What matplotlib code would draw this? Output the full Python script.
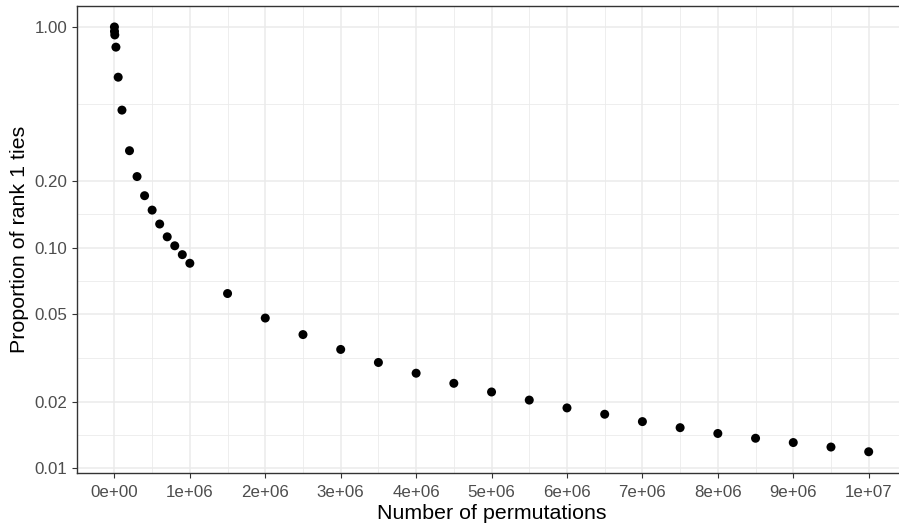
import numpy as np
import matplotlib
matplotlib.use("Agg")
import matplotlib.pyplot as plt
from matplotlib.ticker import FixedLocator, FixedFormatter

# Data
permutations = [100, 1000, 5000, 20000, 50000, 100000,
                200000, 300000, 400000, 500000, 600000, 700000, 800000, 900000, 1000000,
                1500000, 2000000, 2500000, 3000000, 3500000, 4000000, 4500000, 5000000,
                5500000, 6000000, 6500000, 7000000, 7500000, 8000000, 8500000, 9000000,
                9500000, 10000000]
prop_ties = [1.0, 0.955, 0.92, 0.81, 0.592, 0.420,
             0.275, 0.210, 0.172, 0.148, 0.128, 0.112, 0.102, 0.093, 0.085,
             0.062, 0.048, 0.0404, 0.0346, 0.0302, 0.0270, 0.0243, 0.0222,
             0.0204, 0.0188, 0.0176, 0.0163, 0.0153, 0.0144, 0.0137, 0.0131,
             0.0125, 0.0119]

x_breaks = [0, 1e6, 2e6, 3e6, 4e6, 5e6, 6e6, 7e6, 8e6, 9e6, 1e7]
x_labels = ["0e+00", "1e+06", "2e+06", "3e+06", "4e+06", "5e+06",
            "6e+06", "7e+06", "8e+06", "9e+06", "1e+07"]
y_breaks = [0.01, 0.02, 0.05, 0.10, 0.20, 1.00]
y_labels = ["0.01", "0.02", "0.05", "0.10", "0.20", "1.00"]

plt.rcParams['font.family'] = ['Liberation Sans', 'DejaVu Sans']

W, H = 899, 524
fig = plt.figure(figsize=(W / 100, H / 100), dpi=100)
left, right, top, bottom = 76.7, 906.4, 5.7, 473.0
ax = fig.add_axes([left / W, 1 - bottom / H, (right - left) / W, (bottom - top) / H])

ax.set_yscale('log')
xmin, xmax = 0, max(permutations)
xr = xmax - xmin
ax.set_xlim(xmin - 0.05 * xr, xmax + 0.05 * xr)
lmin, lmax = np.log10(min(prop_ties)), np.log10(max(prop_ties))
lr = lmax - lmin
ax.set_ylim(10 ** (lmin - 0.05 * lr), 10 ** (lmax + 0.05 * lr))

grid_col = '#EBEBEB'
# minor gridlines (midpoints between major breaks)
x_minor = [b + 5e5 for b in x_breaks[:-1]]
lb = np.log10(y_breaks)
y_minor = [10 ** ((lb[i] + lb[i + 1]) / 2) for i in range(len(lb) - 1)]
for xm in x_minor:
    ax.axvline(xm, color=grid_col, lw=0.6, zorder=0)
for ym in y_minor:
    ax.axhline(ym, color=grid_col, lw=0.6, zorder=0)
for xb in x_breaks:
    ax.axvline(xb, color=grid_col, lw=1.15, zorder=0.5)
for yb in y_breaks:
    ax.axhline(yb, color=grid_col, lw=1.15, zorder=0.5)

ax.scatter(permutations, prop_ties, s=42, color='black', edgecolors='none', zorder=3)

ax.xaxis.set_major_locator(FixedLocator(x_breaks))
ax.xaxis.set_major_formatter(FixedFormatter(x_labels))
ax.yaxis.set_major_locator(FixedLocator(y_breaks))
ax.yaxis.set_major_formatter(FixedFormatter(y_labels))
ax.yaxis.set_minor_locator(FixedLocator([]))
ax.xaxis.set_minor_locator(FixedLocator([]))

ax.tick_params(axis='both', which='major', length=3.8, width=0.8, color='#333333',
               labelcolor='#4D4D4D', labelsize=12.2)
ax.tick_params(axis='x', pad=4.5)
ax.tick_params(axis='y', pad=3)

for sp in ax.spines.values():
    sp.set_color('#333333')
    sp.set_linewidth(1.0)

ax.set_xlabel("Number of permutations", fontsize=15.4, color='black', labelpad=3)
ax.set_ylabel("Proportion of rank 1 ties", fontsize=15.4, color='black', labelpad=4)

fig.savefig("out.png", dpi=100)
